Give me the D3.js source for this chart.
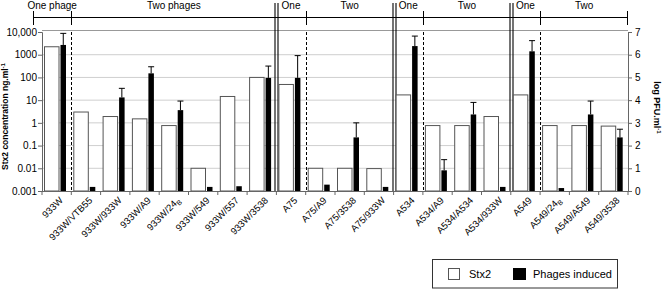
<!DOCTYPE html>
<html><head><meta charset="utf-8">
<script src="https://cdn.jsdelivr.net/npm/d3@7"></script>
<style>
html,body{margin:0;padding:0;background:#fff;}
svg{display:block;font-family:"Liberation Sans",Arial,Helvetica,sans-serif;}
</style></head>
<body><svg id="c" width="664" height="289"></svg>
<script>
// ---- data ----
const categories = ["933W","933W/VTB55","933W/933W","933W/A9","933W/24|B","933W/549","933W/557","933W/3538",
  "A75","A75/A9","A75/3538","A75/933W",
  "A534","A534/A9","A534/A534","A534/933W",
  "A549","A549/24|B","A549/A549","A549/3538"];
const stx2 = [2240, 3.0, 1.9, 1.5, 0.76, 0.01, 14.5, 100, 49, 0.01, 0.01, 0.0097, 17, 0.76, 0.76, 1.9, 17, 0.76, 0.76, 0.72];
const phagesLogPFU = [6.43, 0.18, 4.12, 5.18, 3.56, 0.18, 0.21, 4.98, 4.98, 0.28, 2.36, 0.18, 6.38, 0.91, 3.37, 0.18, 6.15, 0.13, 3.37, 2.36];
const phagesErrTop = [6.94, null, 4.52, 5.47, 3.96, null, null, 5.5, 5.96, null, 3.0, null, 6.82, 1.38, 3.9, null, 6.62, null, 3.96, 2.72];
const groupLabels = ["One phage","Two phages","One","Two","One","Two","One","Two"];
const groupSizes = [1,7,1,3,1,3,1,3];
const stxTickValues = [0.001,0.01,0.1,1,10,100,1000,10000];
const stxTickLabels = ["0.001","0.01","0.1","1","10","100","1000","10,000"];
const pfuTickValues = [0,1,2,3,4,5,6,7];
const legendLabels = ["Stx2","Phages induced"];
const yTitleLeft = "Stx2 concentration ng.ml";
const yTitleRight = "log PFU.ml";

// ---- layout ----
const svg = d3.select("#c");
const L = 42, R = 628, T = 30, B = 191;
const x = d3.scaleBand().domain(categories).range([L, R]).padding(0);
const yLog = d3.scaleLog().domain([0.001, 10000]).range([B, 32]);
const yLin = d3.scaleLinear().domain([0, 7]).range([B, 32]);
const step = x.step();

// gridlines
svg.append("g").selectAll("line").data(stxTickValues.slice(1, 7)).join("line")
  .attr("x1", L).attr("x2", R).attr("y1", d => yLog(d)).attr("y2", d => yLog(d))
  .attr("stroke", "#cfcfcf").attr("stroke-width", 1);
// frame top
svg.append("line").attr("x1", L).attr("x2", R).attr("y1", T + 0.5).attr("y2", T + 0.5).attr("stroke", "#999");

// separators
const bounds = [];
let acc = 0;
groupSizes.forEach((s, k) => { bounds.push(acc); acc += s; });
bounds.push(categories.length);
const edgeX = i => i < categories.length ? x(categories[i]) : R;

for (let k = 1; k < groupSizes.length; k++) {
  const xi = Math.round(edgeX(bounds[k])) + 0.5;
  if (groupLabels[k].startsWith("One")) {
    [-1.5, 1.5].forEach(o => svg.append("line").attr("x1", xi + o).attr("x2", xi + o)
      .attr("y1", 3).attr("y2", B).attr("stroke", "#000").attr("stroke-width", 1.1));
  } else {
    svg.append("line").attr("x1", xi).attr("x2", xi).attr("y1", T + 2).attr("y2", B)
      .attr("stroke", "#000").attr("stroke-width", 1).attr("stroke-dasharray", "3,2");
    svg.append("line").attr("x1", xi).attr("x2", xi).attr("y1", 11).attr("y2", 25)
      .attr("stroke", "#000").attr("stroke-width", 1);
  }
}
// header line
const hx0 = L - 9;
svg.append("line").attr("x1", hx0).attr("x2", R).attr("y1", 17.5).attr("y2", 17.5).attr("stroke", "#000");
[hx0 + 0.5, R - 0.5].forEach(xx => svg.append("line").attr("x1", xx).attr("x2", xx).attr("y1", 11).attr("y2", 25).attr("stroke", "#000"));
groupLabels.forEach((g, k) => {
  const a = k === 0 ? hx0 : edgeX(bounds[k]);
  const b = edgeX(bounds[k + 1]);
  svg.append("text").attr("x", (a + b) / 2).attr("y", 9).attr("text-anchor", "middle")
    .attr("font-size", 10).text(g);
});

// bars
const wW = 14.5, bW = 5.5, wOff = 2.5, bOff = 18.5;
svg.append("g").selectAll("rect").data(categories).join("rect")
  .attr("x", d => x(d) + wOff).attr("width", wW)
  .attr("y", (d, i) => yLog(stx2[i])).attr("height", (d, i) => B - yLog(stx2[i]))
  .attr("fill", "#fff").attr("stroke", "#555").attr("stroke-width", 1);
svg.append("g").selectAll("rect").data(categories).join("rect")
  .attr("x", d => x(d) + bOff).attr("width", bW)
  .attr("y", (d, i) => yLin(phagesLogPFU[i])).attr("height", (d, i) => B - yLin(phagesLogPFU[i]))
  .attr("fill", "#000");
const eg = svg.append("g").attr("stroke", "#000").attr("stroke-width", 1);
categories.forEach((c, i) => {
  if (phagesErrTop[i] == null) return;
  const cx = x(c) + bOff + bW / 2;
  eg.append("line").attr("x1", cx).attr("x2", cx).attr("y1", yLin(phagesLogPFU[i])).attr("y2", yLin(phagesErrTop[i]));
  eg.append("line").attr("x1", cx - 3).attr("x2", cx + 3).attr("y1", yLin(phagesErrTop[i])).attr("y2", yLin(phagesErrTop[i]));
});

// left axis
const la = svg.append("g").attr("transform", `translate(${L},0)`)
  .call(d3.axisLeft(yLog).tickValues(stxTickValues).tickFormat((d, i) => stxTickLabels[i]).tickSize(4).tickPadding(1));
la.selectAll("text").attr("font-size", 10).attr("font-family", "Liberation Sans, Arial, sans-serif").attr("fill", "#000");
la.select(".domain").attr("stroke", "#666");
la.selectAll(".tick line").attr("stroke", "#666");
// right axis
const ra = svg.append("g").attr("transform", `translate(${R},0)`)
  .call(d3.axisRight(yLin).tickValues(pfuTickValues).tickFormat(d3.format("d")).tickSize(4).tickPadding(3));
ra.selectAll("text").attr("font-size", 10).attr("font-family", "Liberation Sans, Arial, sans-serif").attr("fill", "#000");
ra.select(".domain").attr("stroke", "#666");
ra.selectAll(".tick line").attr("stroke", "#666");
// bottom axis
svg.append("line").attr("x1", L).attr("x2", R).attr("y1", B + 0.5).attr("y2", B + 0.5).attr("stroke", "#666");
svg.append("g").selectAll("line").data(d3.range(categories.length + 1)).join("line")
  .attr("x1", i => edgeX(i)).attr("x2", i => edgeX(i)).attr("y1", B).attr("y2", B + 4).attr("stroke", "#666");
categories.forEach(c => {
  const cx = x(c) + step / 2 + 7, cy = B + 10;
  const t = svg.append("text").attr("text-anchor", "end").attr("font-size", 9.5)
    .attr("transform", `translate(${cx},${cy}) rotate(-45)`);
  const parts = c.split("|");
  t.append("tspan").text(parts[0]);
  if (parts[1]) t.append("tspan").attr("font-size", 7).attr("dy", 2.5).text(parts[1]);
});

// titles
const lt = svg.append("text").attr("transform", `translate(8,${(T + B) / 2 + 6}) rotate(-90)`)
  .attr("text-anchor", "middle").attr("font-size", 8.5).attr("font-weight", "bold");
lt.append("tspan").text(yTitleLeft);
lt.append("tspan").attr("font-size", 6).attr("dy", -3).text("-1");
const rt = svg.append("text").attr("transform", `translate(654,${(T + B) / 2 - 3}) rotate(90)`)
  .attr("text-anchor", "middle").attr("font-size", 9).attr("font-weight", "bold");
rt.append("tspan").text(yTitleRight);
rt.append("tspan").attr("font-size", 6).attr("dy", -3).text("-1");

// legend
const lg = svg.append("g");
lg.append("rect").attr("x", 432.5).attr("y", 259.5).attr("width", 185).attr("height", 28.5)
  .attr("fill", "#fff").attr("stroke", "#333");
lg.append("rect").attr("x", 448.5).attr("y", 268.5).attr("width", 11).attr("height", 11).attr("fill", "#fff").attr("stroke", "#555");
lg.append("text").attr("x", 469).attr("y", 278).attr("font-size", 11).text(legendLabels[0]);
lg.append("rect").attr("x", 513).attr("y", 268).attr("width", 13).attr("height", 12).attr("fill", "#000");
lg.append("text").attr("x", 533).attr("y", 278).attr("font-size", 11).text(legendLabels[1]);
</script></body></html>
